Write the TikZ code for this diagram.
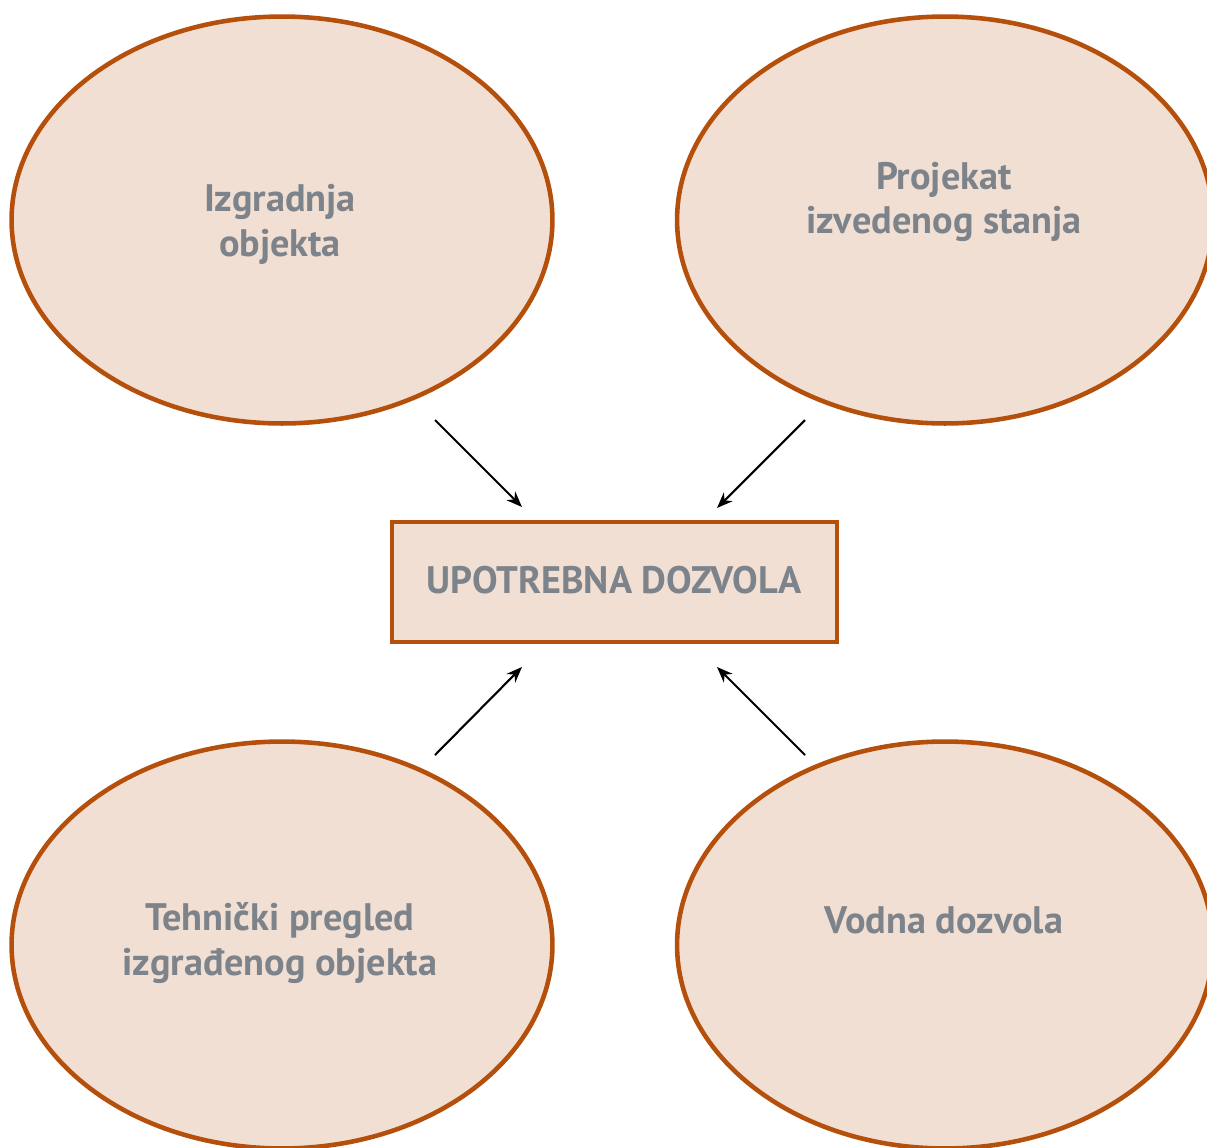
\documentclass[tikz,border=0pt]{standalone}
\usepackage{fontspec}
\setmainfont{PT Sans}
\usetikzlibrary{shapes.geometric,arrows.meta}
\definecolor{rim}{HTML}{B5500C}
\definecolor{peach}{HTML}{F2DFD3}
\definecolor{txt}{HTML}{7D838A}
\begin{document}
\begin{tikzpicture}[x=0.02cm,y=-0.02cm,
	oval/.style={ellipse,draw=rim,fill=peach,line width=2.6pt,inner sep=0pt},
	lbl/.style={text=txt,font=\fontsize{21.8}{25.5}\selectfont\bfseries,align=center},
	arr/.style={-{Stealth[length=9pt,width=7pt]},line width=1.2pt}]
	\useasboundingbox (0,0) rectangle (1207,1147);
	\node[oval,minimum width=10.82cm,minimum height=8.14cm] (n1) at (282,220) {};
	\node[oval,minimum width=10.72cm,minimum height=8.14cm] (n2) at (945,220) {};
	\node[oval,minimum width=10.82cm,minimum height=8.14cm] (n3) at (282,945) {};
	\node[oval,minimum width=10.72cm,minimum height=8.14cm] (n4) at (945,945) {};
	\node[draw=rim,fill=peach,line width=2.6pt,minimum width=8.9cm,minimum height=2.4cm] (n5) at (614.5,582) {};

	\node[lbl] (t1) at (280,224) {Izgradnja\\objekta};
	\node[lbl] (t2) at (944,202) {Projekat\\izvedenog stanja};
	\node[lbl] (t3) at (280,943) {Tehnički pregled\\izgrađenog objekta};
	\node[lbl] (t4) at (944,920) {Vodna dozvola};
	\node[lbl] (t5) at (614,580) {UPOTREBNA DOZVOLA};

	\coordinate (a1) at (435,420); \coordinate (b1) at (522,507);
	\coordinate (a2) at (805,420); \coordinate (b2) at (717,508);
	\coordinate (a3) at (435,755); \coordinate (b3) at (522,667);
	\coordinate (a4) at (805,755); \coordinate (b4) at (717,667);
	\draw[arr] (a1) -- (b1);
	\draw[arr] (a2) -- (b2);
	\draw[arr] (a3) -- (b3);
	\draw[arr] (a4) -- (b4);
\end{tikzpicture}
\end{document}
